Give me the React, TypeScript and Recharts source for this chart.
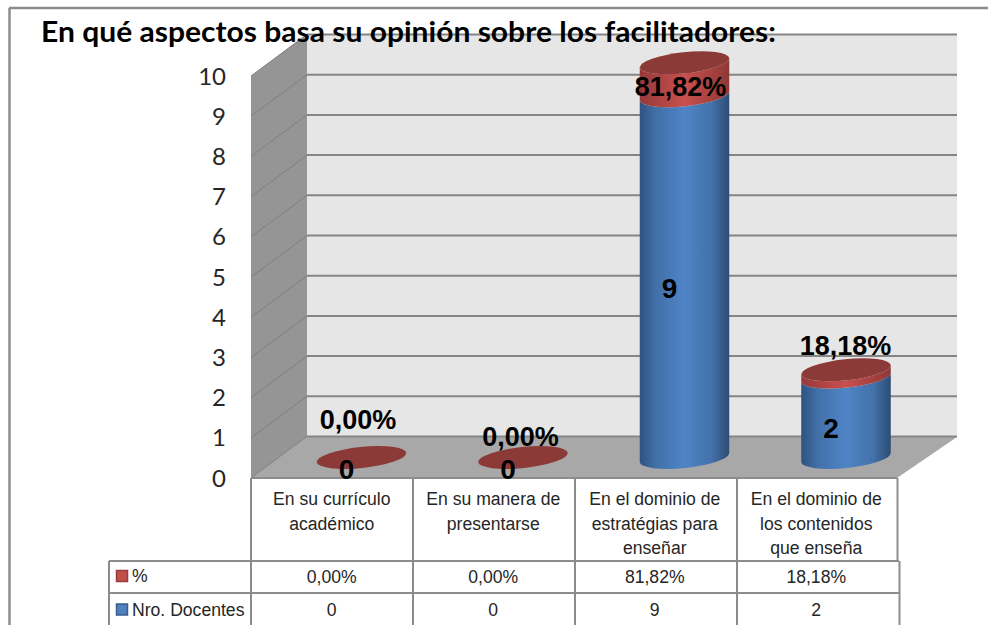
import React from 'react';
import { BarChart, Bar, XAxis, YAxis, CartesianGrid, LabelList } from 'recharts';

const categories = [
  'En su currículo académico',
  'En su manera de presentarse',
  'En el dominio de estratégias para enseñar',
  'En el dominio de los contenidos que enseña',
];
const categoryLines = [
  ['En su currículo', 'académico'],
  ['En su manera de', 'presentarse'],
  ['En el dominio de', 'estratégias para', 'enseñar'],
  ['En el dominio de', 'los contenidos', 'que enseña'],
];
const docentes = [0, 0, 9, 2];
const porcentaje = [0, 0, 0.8182, 0.1818];
const porcentajeLabels = ['0,00%', '0,00%', '81,82%', '18,18%'];
const valueTicks = [0, 1, 2, 3, 4, 5, 6, 7, 8, 9, 10];

const data = categories.map((category, i) => ({
  category,
  docentes: docentes[i],
  porcentaje: porcentaje[i],
}));

// manual nudges of the red labels, Excel had them dragged around
const pctLabelNudge = [
  [26, -58],
  [27, -41],
  [25.5, 4],
  [29, -44],
];

const sans = '"Liberation Sans", Arial, sans-serif';
const LINE = '#8c8c8c';
const DEPTH_X = 29.5;
const DEPTH_Y = -20.5;
const TILT = -6;

const renderGridLine = (props: any) => {
  const { x1, y1 } = props;
  return (
    <g key={props.key}>
      <line x1={x1} y1={y1} x2={307} y2={y1 - 41.5} stroke="#7f7f7f" strokeWidth={1} />
      <line x1={307} y1={y1 - 41.5} x2={957} y2={y1 - 41.5} stroke="#858585" strokeWidth={2} />
    </g>
  );
};

// the 3D box sits in its own svg under the chart so the grid stays on top of it
const Walls = () => (
  <svg width={988} height={625} style={{ position: 'absolute', left: 0, top: 0 }}>
    <polygon points="307,34 957,34 957,437 307,437" fill="#e6e6e6" />
    <polygon points="251,76 307,34 307,437 251,478" fill="#959595" />
    <polygon points="251,478 307,437 957,437 897,478" fill="#a8a8a8" />
  </svg>
);

const Gradients = () => (
  <defs>
    <linearGradient id="blueSide" x1="0" y1="0" x2="1" y2="0">
      <stop offset="0" stopColor="#2f5280" />
      <stop offset="0.18" stopColor="#4270a8" />
      <stop offset="0.5" stopColor="#4f84c6" />
      <stop offset="0.8" stopColor="#4472aa" />
      <stop offset="1" stopColor="#2d4c74" />
    </linearGradient>
    <linearGradient id="redSide" x1="0" y1="0" x2="1" y2="0">
      <stop offset="0" stopColor="#96393a" />
      <stop offset="0.5" stopColor="#c9504e" />
      <stop offset="1" stopColor="#8e3836" />
    </linearGradient>
  </defs>
);

const Cylinder = (props: any) => {
  const { x, y, width, height, side, top } = props;
  const rx = width / 2;
  const ry = 10.5;
  const cx = x + rx + DEPTH_X;
  const yTop = y + DEPTH_Y;
  const yBottom = y + height + DEPTH_Y;
  const rad = (TILT * Math.PI) / 180;
  const ex = rx * Math.cos(rad);
  const ey = rx * Math.sin(rad);
  const d = [
    `M${cx - ex} ${yTop - ey}`,
    `L${cx - ex} ${yBottom - ey}`,
    `A${rx} ${ry} ${TILT} 0 0 ${cx + ex} ${yBottom + ey}`,
    `L${cx + ex} ${yTop + ey}`,
    `A${rx} ${ry} ${TILT} 0 1 ${cx - ex} ${yTop - ey}`,
    'Z',
  ].join(' ');
  return (
    <g>
      <path d={d} fill={side} />
      {top && (
        <ellipse cx={cx} cy={yTop} rx={rx} ry={ry} fill={top} transform={`rotate(${TILT} ${cx} ${yTop})`} />
      )}
    </g>
  );
};

const BlueLabel = (props: any) => {
  const { x, y, width, height, value } = props;
  return (
    <text
      x={x + width / 2 + 14.5}
      y={y + height / 2 - 9}
      textAnchor="middle"
      dominantBaseline="central"
      fontFamily={sans}
      fontWeight={700}
      fontSize={28}
      fill="#000"
    >
      {value}
    </text>
  );
};

const RedLabel = (props: any) => {
  const { x, y, width, index } = props;
  const [dx, dy] = pctLabelNudge[index];
  return (
    <text
      x={x + width / 2 + dx}
      y={y + dy}
      textAnchor="middle"
      dominantBaseline="central"
      fontFamily={sans}
      fontWeight={700}
      fontSize={27}
      fill="#000"
    >
      {porcentajeLabels[index]}
    </text>
  );
};

// one table column hangs off each category tick
const TableColumn = (props: any) => {
  const { x, index } = props;
  const lines = categoryLines[index];
  const cell = { x, textAnchor: 'middle' as const, fontFamily: sans, fontSize: 17.6, fill: '#262626' };
  return (
    <g>
      {lines.map((line, i) => (
        <text key={line} {...cell} y={505 + i * 24.5}>
          {line}
        </text>
      ))}
      <text {...cell} y={583}>
        {porcentajeLabels[index]}
      </text>
      <text {...cell} y={616}>
        {docentes[index]}
      </text>
    </g>
  );
};

const TableFrame = () => {
  const rule = { stroke: LINE, strokeWidth: 2 };
  return (
    <g>
      <line x1={9} y1={8} x2={988} y2={8} stroke={LINE} strokeWidth={2.5} />
      <line x1={9.5} y1={8} x2={9.5} y2={625} stroke={LINE} strokeWidth={2.5} />
      <line x1={251} y1={478} x2={897} y2={478} {...rule} />
      <line x1={109} y1={561} x2={899} y2={561} {...rule} />
      <line x1={109} y1={593} x2={899} y2={593} {...rule} />
      <line x1={109} y1={561} x2={109} y2={625} {...rule} />
      <line x1={251} y1={478} x2={251} y2={625} {...rule} />
      <line x1={413} y1={478} x2={413} y2={625} {...rule} />
      <line x1={575} y1={478} x2={575} y2={625} {...rule} />
      <line x1={737} y1={478} x2={737} y2={625} {...rule} />
      <line x1={897.5} y1={478} x2={897.5} y2={561} {...rule} />
      <line x1={899.5} y1={561} x2={899.5} y2={625} {...rule} />
      <rect x={116.5} y={570.5} width={11} height={11} fill="#c0504d" stroke="#9a3b39" strokeWidth={1.5} />
      <rect x={116.5} y={604} width={11} height={11} fill="#4f81bd" stroke="#385d8a" strokeWidth={1.5} />
      <text x={132} y={582} fontFamily={sans} fontSize={17.6} fill="#262626">%</text>
      <text x={132} y={616} fontFamily={sans} fontSize={17.6} fill="#262626">Nro. Docentes</text>
      <text
        x={41}
        y={42}
        fontFamily="Lato, sans-serif"
        fontWeight={700}
        fontSize={28}
        fill="#000"
        textLength={735}
        lengthAdjust="spacingAndGlyphs"
      >
        En qué aspectos basa su opinión sobre los facilitadores:
      </text>
    </g>
  );
};

export default function App() {
  return (
    <div style={{ position: 'absolute', left: 0, top: 0, width: 988, height: 625, background: '#fff' }}>
      <Walls />
      <BarChart
        width={988}
        height={625}
        data={data}
        barSize={90}
        margin={{ top: 76, right: 91, bottom: 117, left: 191 }}
      >
        <Gradients />
        <CartesianGrid horizontal={renderGridLine} vertical={false} />
        <XAxis
          dataKey="category"
          height={30}
          interval={0}
          axisLine={false}
          tickLine={false}
          tick={TableColumn}
        />
        <YAxis
          width={60}
          domain={[0, 10]}
          ticks={valueTicks}
          axisLine={false}
          tickLine={false}
          tickMargin={19}
          tick={{ fontFamily: 'Lato, sans-serif', fontSize: 24, fill: '#262626' }}
        />
        <TableFrame />
        <Bar
          dataKey="docentes"
          stackId="a"
          isAnimationActive={false}
          shape={(p: any) => <Cylinder {...p} side="url(#blueSide)" />}
        >
          <LabelList dataKey="docentes" content={BlueLabel} />
        </Bar>
        <Bar
          dataKey="porcentaje"
          stackId="a"
          isAnimationActive={false}
          shape={(p: any) => <Cylinder {...p} side="url(#redSide)" top="#8c3a38" />}
        >
          <LabelList dataKey="porcentaje" content={RedLabel} />
        </Bar>
      </BarChart>
    </div>
  );
}
